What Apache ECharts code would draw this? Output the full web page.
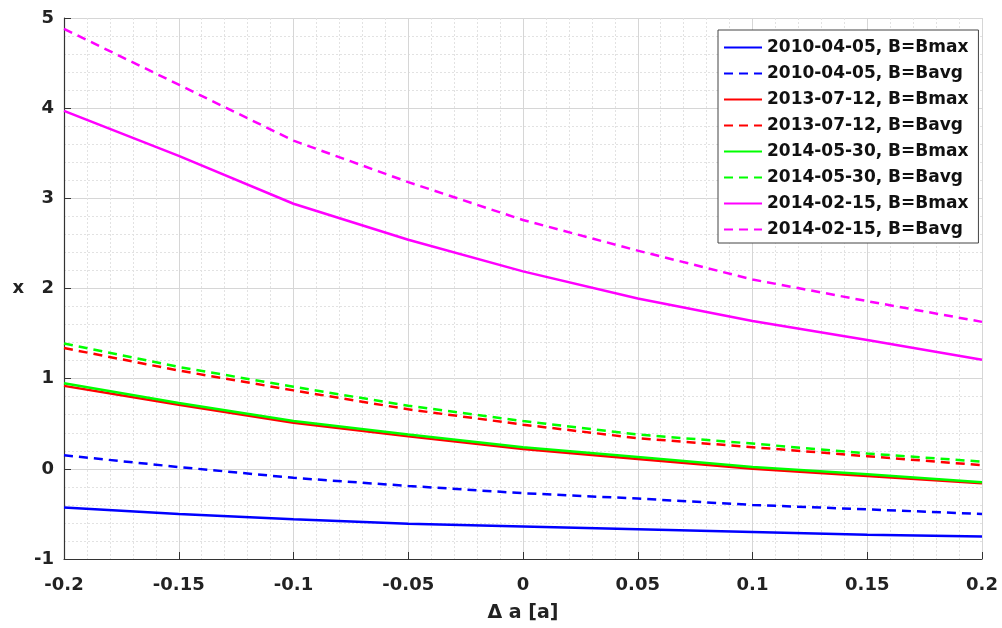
<!DOCTYPE html>
<html>
<head>
<meta charset="utf-8">
<script src="https://cdn.jsdelivr.net/npm/echarts@6/dist/echarts.min.js"></script>
<style>
  html, body { margin: 0; padding: 0; background: #fff; }
  #chart { width: 1002px; height: 628px; }
</style>
</head>
<body>
<div id="chart"></div>
<script>
// Δa 取值
const deltaA = [-0.2, -0.15, -0.1, -0.05, 0, 0.05, 0.1, 0.15, 0.2]

// 每个日期两条曲线: B=Bmax 实线, B=Bavg 虚线
const x20100405Max = [-0.43, -0.50, -0.56, -0.61, -0.64, -0.67, -0.70, -0.73, -0.75]
const x20100405Avg = [0.15, 0.02, -0.10, -0.19, -0.27, -0.33, -0.40, -0.45, -0.50]
const x20130712Max = [0.92, 0.71, 0.51, 0.36, 0.22, 0.11, 0.00, -0.08, -0.16]
const x20130712Avg = [1.34, 1.09, 0.87, 0.66, 0.49, 0.34, 0.24, 0.14, 0.04]
const x20140530Max = [0.95, 0.73, 0.53, 0.38, 0.24, 0.13, 0.02, -0.06, -0.15]
const x20140530Avg = [1.39, 1.13, 0.91, 0.70, 0.53, 0.38, 0.28, 0.17, 0.08]
const x20140215Max = [3.97, 3.47, 2.94, 2.54, 2.19, 1.89, 1.64, 1.43, 1.21]
const x20140215Avg = [4.88, 4.26, 3.64, 3.18, 2.76, 2.42, 2.10, 1.86, 1.63]

const seriesNames = [
    '2010-04-05, B=Bmax', '2010-04-05, B=Bavg',
    '2013-07-12, B=Bmax', '2013-07-12, B=Bavg',
    '2014-05-30, B=Bmax', '2014-05-30, B=Bavg',
    '2014-02-15, B=Bmax', '2014-02-15, B=Bavg'
]
const seriesValues = [
    x20100405Max, x20100405Avg,
    x20130712Max, x20130712Avg,
    x20140530Max, x20140530Avg,
    x20140215Max, x20140215Avg
]
const seriesColors = ['#0000ff', '#0000ff', '#ff0000', '#ff0000', '#00ff00', '#00ff00', '#ff00ff', '#ff00ff']

const FONT = '"DejaVu Sans", "Liberation Sans", sans-serif'

function pairs (ys) {
    return deltaA.map((x, i) => [x, ys[i]])
}

const chart = echarts.init(document.getElementById('chart'))

const option = {
    backgroundColor: '#fff',
    animation: false,
    grid: {
        left: 64,
        right: 20,
        top: 18,
        bottom: 66
    },
    legend: {
        orient: 'vertical',
        left: 718,
        top: 30,
        padding: [9, 10, 5, 5],
        itemWidth: 38,
        itemHeight: 17,
        itemGap: 9,
        backgroundColor: '#fff',
        borderColor: '#444',
        borderWidth: 1,
        borderRadius: 0,
        itemStyle: { opacity: 0 },
        data: seriesNames,
        textStyle: {
            fontFamily: FONT,
            fontWeight: 'bold',
            fontSize: 17,
            color: '#111',
            lineHeight: 17
        }
    },
    xAxis: {
        type: 'value',
        min: -0.2,
        max: 0.2,
        interval: 0.05,
        name: 'Δ a [a]',
        nameLocation: 'middle',
        nameGap: 45,
        nameTextStyle: {
            fontFamily: FONT,
            fontWeight: 'bold',
            fontSize: 19,
            color: '#222'
        },
        axisLine: { onZero: false, lineStyle: { color: '#333', width: 1.2 } },
        axisTick: { inside: true, length: 7, lineStyle: { color: '#333' } },
        axisLabel: {
            margin: 17,
            fontFamily: FONT,
            fontWeight: 'bold',
            fontSize: 18,
            color: '#222',
            formatter: v => String(Math.round(v * 100) / 100)
        },
        splitLine: { show: true, lineStyle: { color: '#d6d6d6', width: 1 } },
        minorTick: { show: false, splitNumber: 5 },
        minorSplitLine: { show: true, lineStyle: { color: '#e2e2e2', type: [2, 2], width: 1 } }
    },
    yAxis: {
        type: 'value',
        min: -1,
        max: 5,
        interval: 1,
        name: 'x',
        nameLocation: 'middle',
        nameRotate: 0,
        nameGap: 40,
        nameTextStyle: {
            fontFamily: FONT,
            fontWeight: 'bold',
            fontSize: 18,
            color: '#222'
        },
        axisLine: { show: true, onZero: false, lineStyle: { color: '#333', width: 1.2 } },
        axisTick: { show: true, inside: true, length: 7, lineStyle: { color: '#333' } },
        axisLabel: {
            margin: 10,
            fontFamily: FONT,
            fontWeight: 'bold',
            fontSize: 18,
            color: '#222'
        },
        splitLine: { show: true, lineStyle: { color: '#d6d6d6', width: 1 } },
        minorTick: { show: false, splitNumber: 5 },
        minorSplitLine: { show: true, lineStyle: { color: '#e2e2e2', type: [2, 2], width: 1 } }
    },
    series: seriesNames.map((name, i) => ({
        name: name,
        type: 'line',
        data: pairs(seriesValues[i]),
        symbol: 'none',
        color: seriesColors[i],
        lineStyle: {
            color: seriesColors[i],
            width: 2.5,
            type: i % 2 === 1 ? [9, 6] : 'solid'
        },
        z: 3
    }))
}

chart.setOption(option)
</script>
</body>
</html>
